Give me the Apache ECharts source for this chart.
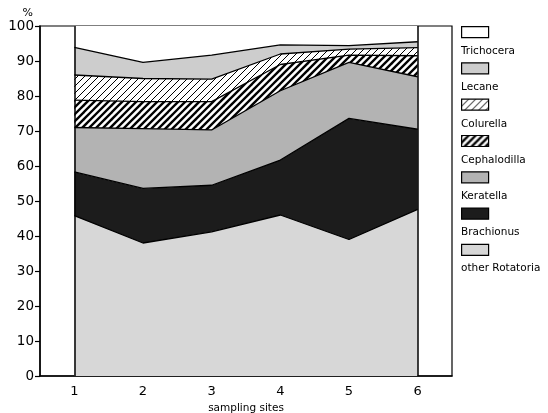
<!DOCTYPE html>
<html>
<head>
<meta charset="utf-8">
<script src="https://cdn.jsdelivr.net/npm/echarts@6/dist/echarts.min.js"></script>
<style>html,body{margin:0;padding:0;background:#fff}#c{width:548px;height:413px}</style>
</head>
<body>
<div id="c"></div>
<script>
// ---- data (percent of rotifer individuals per sampling site) ----
const sites = ['1', '2', '3', '4', '5', '6'];
const otherRotatoria = [45.8, 38.0, 41.2, 46.0, 39.0, 47.6];
const brachionus     = [12.5, 15.6, 13.3, 15.7, 34.6, 22.9];
const keratella      = [12.7, 17.1, 15.8, 19.8, 16.0, 15.0];
const cephalodilla   = [7.8, 7.7, 8.1, 7.5, 2.1, 6.0];
const colurella      = [7.2, 6.6, 6.4, 3.0, 1.7, 2.3];
const lecane         = [7.9, 4.6, 6.9, 2.6, 1.0, 1.7];
const trichocera     = [6.1, 10.4, 8.3, 5.4, 5.6, 4.5];
const yTicks = [0, 10, 20, 30, 40, 50, 60, 70, 80, 90, 100];

function hatch(lineW, period) {
  const size = period * 4;
  const c = document.createElement('canvas');
  c.width = size; c.height = size;
  const ctx = c.getContext('2d');
  ctx.fillStyle = '#fff';
  ctx.fillRect(0, 0, size, size);
  ctx.strokeStyle = '#000';
  ctx.lineWidth = lineW;
  ctx.lineCap = 'butt';
  for (let k = -4; k <= 4; k++) {
    ctx.beginPath();
    ctx.moveTo(k * period - 2, size + 2);
    ctx.lineTo(k * period + size + 2, -2);
    ctx.stroke();
  }
  return { image: c, repeat: 'repeat' };
}

const layers = [
  { name: 'other Rotatoria', data: otherRotatoria, color: '#d7d7d7' },
  { name: 'Brachionus', data: brachionus, color: '#1c1c1c' },
  { name: 'Keratella', data: keratella, color: '#b3b3b3' },
  { name: 'Cephalodilla', data: cephalodilla, color: hatch(2.3, 7) },
  { name: 'Colurella', data: colurella, color: hatch(1, 7) },
  { name: 'Lecane', data: lecane, color: '#cdcdcd' },
  { name: 'Trichocera', data: trichocera, color: '#ffffff' }
];

const series = [];
layers.forEach((l, i) => {
  const s = {
    name: l.name, type: 'line', stack: 'total', data: l.data,
    symbol: 'none', silent: true, z: 2,
    lineStyle: { width: 0, color: '#000' },
    itemStyle: { color: l.color },
    areaStyle: { color: l.color, opacity: 1 }
  };
  if (i === layers.length - 1) {
    s.markLine = {
      silent: true, symbol: 'none', label: { show: false },
      lineStyle: { color: '#000', width: 1.5, type: 'solid' },
      data: [{ xAxis: sites[0] }, { xAxis: sites[sites.length - 1] }]
    };
  }
  series.push(s);
});
// outlines of the stacked boundaries, drawn on top
layers.slice(0, layers.length - 1).forEach((l, i) => {
  series.push({
    name: '_outline' + i, type: 'line', stack: 'outline', data: l.data,
    symbol: 'none', silent: true, z: 3,
    lineStyle: { width: 1.3, color: '#000' }
  });
});

const legendNames = layers.map(l => l.name).slice().reverse();
const font = 'DejaVu Sans';

const option = {
  animation: false,
  backgroundColor: '#fff',
  grid: { left: 40, right: 96, top: 26, bottom: 37, outerBoundsMode: 'none', containLabel: false, show: true, borderColor: '#000', borderWidth: 1.2, backgroundColor: 'transparent' },
  xAxis: {
    type: 'category', data: sites, boundaryGap: true,
    name: 'sampling sites', nameLocation: 'middle', nameGap: 26,
    nameTextStyle: { fontFamily: font, fontSize: 10.5, color: '#000' },
    axisLine: { lineStyle: { color: '#000', width: 1.5 } },
    axisTick: { alignWithLabel: true, length: 4, lineStyle: { color: '#000', width: 1.2 } },
    axisLabel: { fontFamily: font, fontSize: 13, color: '#000', margin: 9 },
    splitLine: { show: false }
  },
  yAxis: {
    type: 'value', min: yTicks[0], max: yTicks[yTicks.length - 1], interval: 10,
    name: '%', nameLocation: 'end', nameGap: 7,
    nameTextStyle: { fontFamily: font, fontSize: 11, color: '#000', align: 'right', padding: [0, 7, 0, 0] },
    axisLine: { show: true, lineStyle: { color: '#000', width: 1.5 } },
    axisTick: { show: true, inside: false, length: 5, lineStyle: { color: '#000', width: 1.2 } },
    axisLabel: { fontFamily: font, fontSize: 13.5, color: '#000', margin: 6 },
    splitLine: { show: false }
  },
  legend: [
    {
      orient: 'vertical', left: 461, top: 26, padding: 0, itemWidth: 27, itemHeight: 11, itemGap: 24.1,
      selectedMode: false, icon: 'rect', formatter: () => '',
      textStyle: { fontSize: 6, lineHeight: 6 },
      data: legendNames.map(n => {
        const l = layers.find(x => x.name === n);
        return { name: n, icon: 'rect', itemStyle: { color: l.color, borderColor: '#000', borderWidth: 1.2 } };
      })
    },
    {
      orient: 'vertical', left: 455, top: 46, padding: 0, itemWidth: 1, itemHeight: 11, itemGap: 25.2,
      selectedMode: false, icon: 'rect',
      itemStyle: { color: 'rgba(0,0,0,0)', borderWidth: 0, opacity: 0 },
      textStyle: { fontFamily: font, fontSize: 10.5, lineHeight: 11, color: '#000' },
      data: legendNames.map(n => ({ name: n, itemStyle: { color: 'rgba(0,0,0,0)', borderWidth: 0, opacity: 0 } }))
    }
  ],
  series: series
};

const chart = echarts.init(document.getElementById('c'), null, { renderer: 'canvas' });
chart.setOption(option);
</script>
</body>
</html>
